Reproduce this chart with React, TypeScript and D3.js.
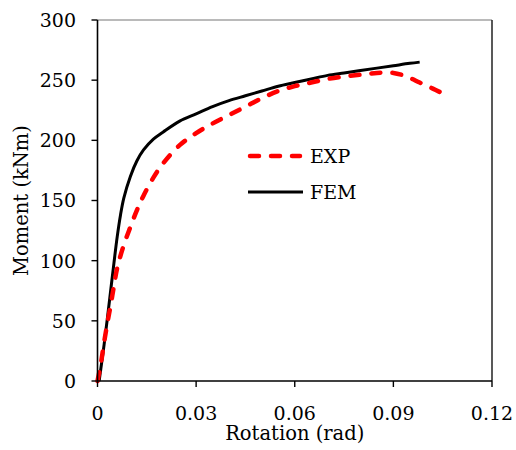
import React from "react";
import * as d3 from "d3";

const xTicks = [0, 0.03, 0.06, 0.09, 0.12];
const xTickLabels = ["0", "0.03", "0.06", "0.09", "0.12"];
const yTicks = [0, 50, 100, 150, 200, 250, 300];

const expRot = [0, 0.001, 0.002, 0.003, 0.004, 0.005, 0.006, 0.008, 0.01, 0.012, 0.014, 0.017, 0.02, 0.025, 0.03, 0.035, 0.04, 0.045, 0.05, 0.055, 0.06, 0.065, 0.07, 0.075, 0.08, 0.085, 0.09, 0.094, 0.098, 0.102, 0.105];
const expMom = [0, 14, 32, 48, 63, 79, 94, 113, 128, 142, 154, 169, 181, 196, 206, 214, 221, 228, 235, 241, 245, 248, 251, 253, 254.5, 256, 256, 253, 248, 243, 239];

const femRot = [0.0005, 0.001, 0.002, 0.003, 0.004, 0.005, 0.006, 0.007, 0.008, 0.01, 0.012, 0.014, 0.017, 0.02, 0.025, 0.03, 0.035, 0.04, 0.045, 0.05, 0.055, 0.06, 0.065, 0.07, 0.075, 0.08, 0.085, 0.09, 0.095, 0.098];
const femMom = [0, 10, 30, 52, 75, 98, 120, 138, 152, 170, 183, 192, 201, 207, 216, 222, 228, 233, 237, 241, 245, 248, 251, 254, 256, 258, 260, 262, 264, 265];

const W = 516, H = 450;
const L = 97.5, R = 492, T = 20, B = 381;
const FONT = "'DejaVu Serif', serif";

export default function App() {
  const x = d3.scaleLinear().domain([0, 0.12]).range([L, R]);
  const y = d3.scaleLinear().domain([0, 300]).range([B, T]);
  const line = d3.line<[number, number]>().x(d => x(d[0])).y(d => y(d[1])).curve(d3.curveCatmullRom.alpha(0.5));
  const expPts = expRot.map((r, i) => [r, expMom[i]] as [number, number]);
  const femPts = femRot.map((r, i) => [r, femMom[i]] as [number, number]);

  return (
    <svg width={W} height={H} style={{ position: "absolute", left: 0, top: 0, background: "#fff" }} fontFamily={FONT}>
      <rect x={0} y={0} width={W} height={H} fill="#fff" />
      {/* frame */}
      <line x1={L} x2={R} y1={T} y2={T} stroke="#777" strokeWidth={1.2} />
      <line x1={R} x2={R} y1={T} y2={B} stroke="#222" strokeWidth={1.5} />
      {/* curves */}
      <path d={line(femPts) || ""} fill="none" stroke="#000" strokeWidth={3} strokeLinejoin="round" />
      <path d={line(expPts) || ""} fill="none" stroke="#ff0000" strokeWidth={4.5} strokeDasharray="9 12" strokeLinecap="round" strokeLinejoin="round" />
      {/* axes */}
      <line x1={L} x2={L} y1={T} y2={B} stroke="#000" strokeWidth={1.6} />
      <line x1={L} x2={R} y1={B} y2={B} stroke="#000" strokeWidth={1.6} />
      {yTicks.map(t => (
        <g key={"y" + t}>
          <line x1={L - 6} x2={L} y1={y(t)} y2={y(t)} stroke="#000" strokeWidth={1.4} />
          <text x={76} y={y(t)} dy="0.36em" textAnchor="end" fontSize={19} fill="#000">{t}</text>
        </g>
      ))}
      {xTicks.map((t, i) => (
        <g key={"x" + t}>
          <line x1={x(t)} x2={x(t)} y1={B} y2={B + 6} stroke="#000" strokeWidth={1.4} />
          <text x={x(t)} y={420} textAnchor="middle" fontSize={19} fill="#000">{xTickLabels[i]}</text>
        </g>
      ))}
      <text x={(L + R) / 2} y={440} textAnchor="middle" fontSize={19.5} fill="#000">Rotation (rad)</text>
      <text transform={`translate(28, ${(T + B) / 2}) rotate(-90)`} textAnchor="middle" fontSize={19.5} fill="#000">Moment (kNm)</text>
      {/* legend */}
      <line x1={250} x2={300} y1={156} y2={156} stroke="#ff0000" strokeWidth={4.5} strokeDasharray="9 12" strokeLinecap="round" />
      <text x={310} y={163} fontSize={19} fill="#000">EXP</text>
      <line x1={248} x2={303} y1={192} y2={192} stroke="#000" strokeWidth={3} />
      <text x={310} y={199} fontSize={19} fill="#000">FEM</text>
    </svg>
  );
}
